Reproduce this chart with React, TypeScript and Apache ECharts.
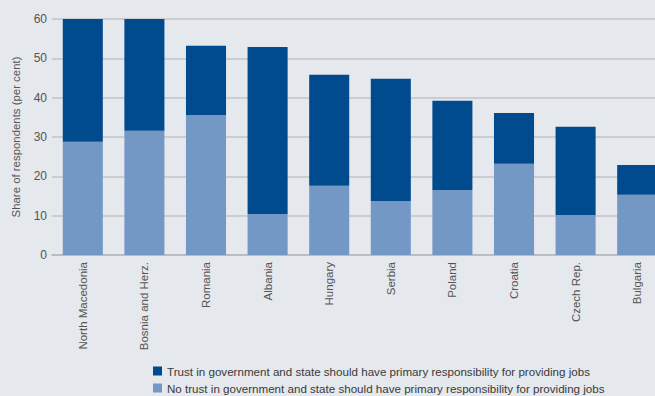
import React, { useEffect, useRef } from "react";
import * as echarts from "echarts";

const categories = [
  "North Macedonia",
  "Bosnia and Herz.",
  "Romania",
  "Albania",
  "Hungary",
  "Serbia",
  "Poland",
  "Croatia",
  "Czech Rep.",
  "Bulgaria",
];
const noTrust = [28.8, 31.6, 35.6, 10.4, 17.6, 13.7, 16.5, 23.2, 10.2, 15.3];
const trust = [31.5, 28.4, 17.6, 42.5, 28.2, 31.1, 22.7, 12.9, 22.4, 7.6];
const yTicks = { min: 0, max: 60, interval: 10 };

const trustName = "Trust in government and state should have primary responsibility for providing jobs";
const noTrustName = "No trust in government and state should have primary responsibility for providing jobs";

export default function App() {
  const ref = useRef<HTMLDivElement>(null);
  useEffect(() => {
    if (!ref.current) return;
    const chart = echarts.init(ref.current, null, { renderer: "svg" });
    chart.setOption({
      animation: false,
      backgroundColor: "#e5e8ec",
      grid: {
        left: 52,
        top: 19,
        bottom: 141,
        width: 616,
        containLabel: false,
        outerBoundsMode: "none",
      },
      legend: {
        orient: "vertical",
        left: 148,
        top: 360,
        height: 40,
        itemWidth: 9,
        itemHeight: 9,
        itemGap: 5,
        icon: "rect",
        data: [trustName, noTrustName],
        textStyle: {
          fontFamily: "'Liberation Sans', Arial, sans-serif",
          fontSize: 11.6,
          color: "#3a3a3a",
        },
      },
      xAxis: {
        type: "category",
        data: categories,
        axisLine: { lineStyle: { color: "#b4b8bd", width: 1.5 } },
        axisTick: { show: false },
        axisLabel: {
          rotate: 90,
          color: "#555",
          fontSize: 11.5,
          fontFamily: "'Liberation Sans', Arial, sans-serif",
          margin: 7,
          interval: 0,
        },
      },
      yAxis: {
        type: "value",
        min: yTicks.min,
        max: yTicks.max,
        interval: yTicks.interval,
        name: "Share of respondents (per cent)",
        nameLocation: "middle",
        nameGap: 31,
        nameTextStyle: {
          color: "#555",
          fontSize: 11.4,
          fontFamily: "'Liberation Sans', Arial, sans-serif",
        },
        axisLine: { show: false },
        axisTick: { show: false },
        axisLabel: {
          color: "#555",
          fontSize: 12,
          fontFamily: "'Liberation Sans', Arial, sans-serif",
          margin: 5,
        },
        splitLine: { lineStyle: { color: "#c2c5c9", width: 1.5 } },
      },
      series: [
        {
          name: noTrustName,
          type: "bar",
          stack: "total",
          data: noTrust,
          barWidth: "65%",
          itemStyle: { color: "#7398c6" },
        },
        {
          name: trustName,
          type: "bar",
          stack: "total",
          data: trust,
          barWidth: "65%",
          itemStyle: { color: "#004a8e" },
        },
      ],
    });
    return () => chart.dispose();
  }, []);
  return (
    <div
      ref={ref}
      style={{ position: "fixed", left: 0, top: 0, width: 655, height: 396 }}
    />
  );
}
